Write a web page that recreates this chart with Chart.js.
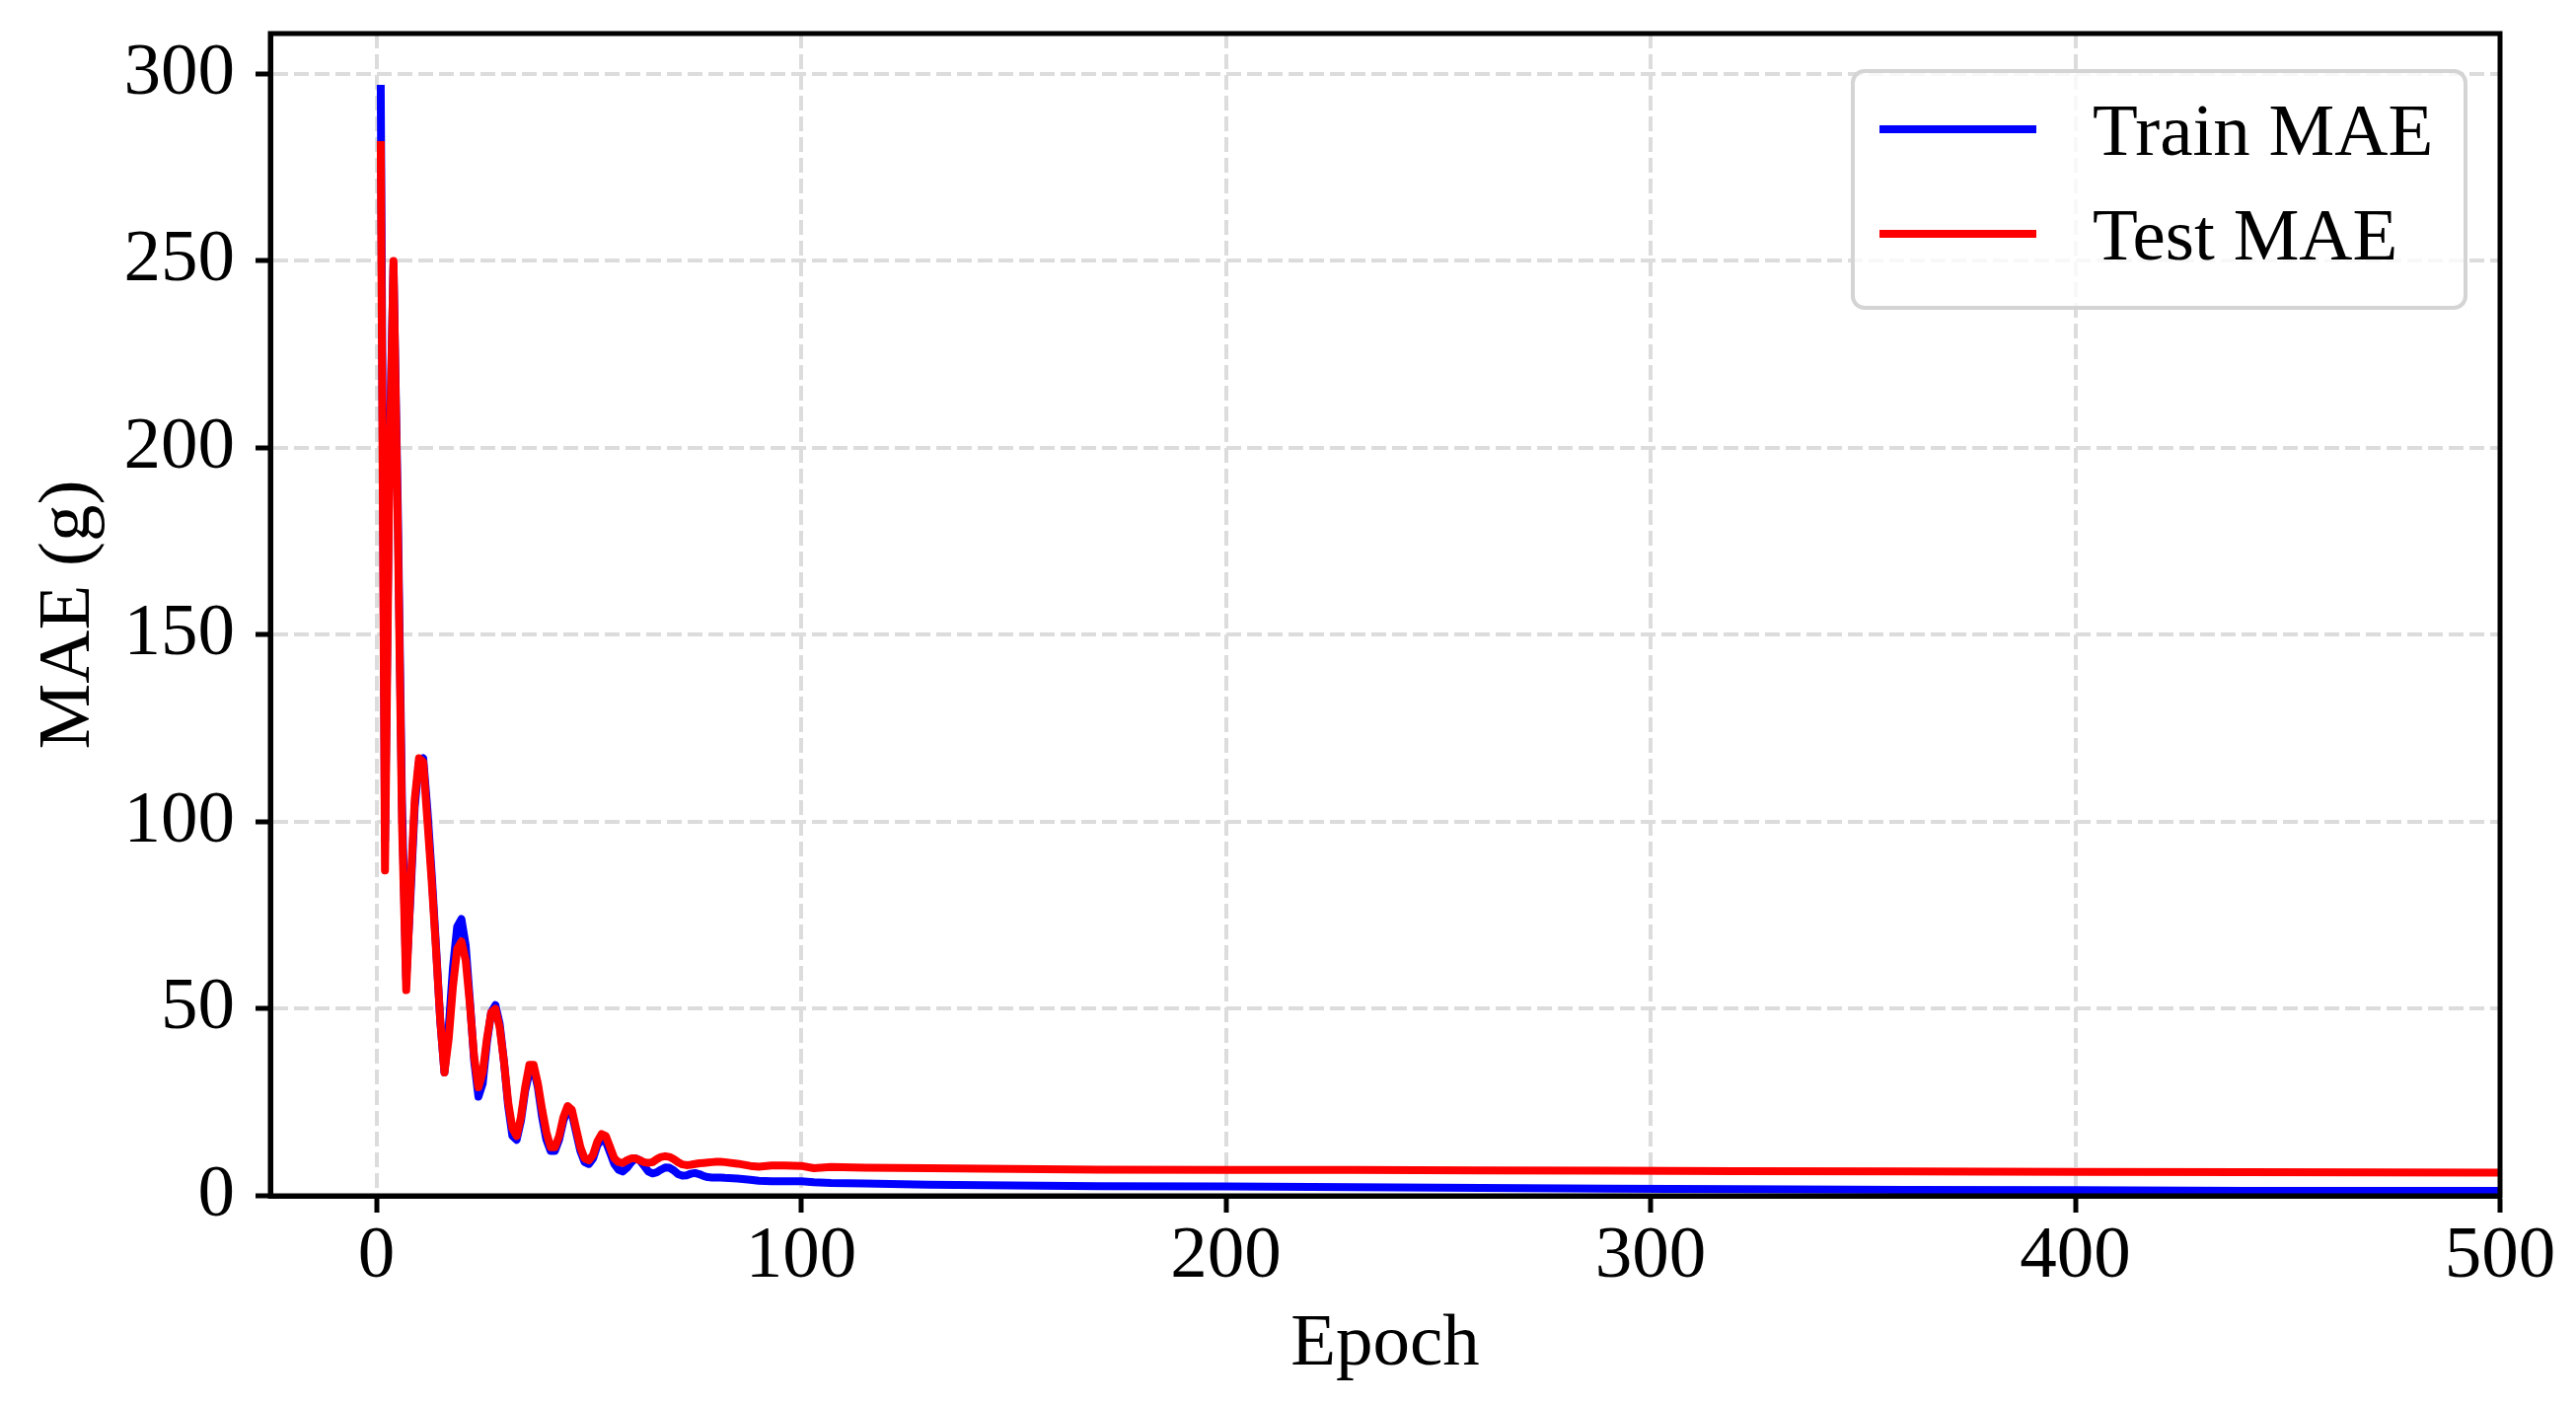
<!DOCTYPE html>
<html>
<head>
<meta charset="utf-8">
<title>MAE per epoch</title>
<script src="https://cdn.jsdelivr.net/npm/chart.js@4.4.1/dist/chart.umd.min.js"></script>
<style>
  html, body { margin: 0; padding: 0; background: #fff; }
  #chart { display: block; }
</style>
</head>
<body>
<canvas id="chart" width="2611" height="1423"></canvas>
<script>
var epochs = [
  1, 2, 3, 4, 5, 6, 7, 8, 9, 10,
  11, 12, 13, 14, 15, 16, 17, 18, 19, 20,
  21, 22, 23, 24, 25, 26, 27, 28, 29, 30,
  31, 32, 33, 34, 35, 36, 37, 38, 39, 40,
  41, 42, 43, 44, 45, 46, 47, 48, 49, 50,
  51, 52, 53, 54, 55, 56, 57, 58, 59, 60,
  61, 62, 63, 64, 65, 66, 67, 68, 69, 70,
  71, 72, 73, 74, 75, 76, 77, 78, 79, 80,
  81, 82, 85, 88, 90, 93, 96, 100, 103, 107,
  115, 130, 150, 170, 200, 230, 260, 290, 320, 360,
  400, 440, 500
];
var trainMae = [
  296, 95, 195, 249, 185, 105, 58, 80, 104, 116,
  117, 103, 86, 67, 47, 33, 45, 61, 72, 74,
  67, 52, 36, 26.5, 30, 41, 49, 51, 46, 36,
  24, 16, 15, 20, 28, 33, 34, 29, 21, 15,
  12, 12, 15, 20, 23, 22, 17, 12, 9, 8.5,
  10, 13.5, 15, 14.5, 11.5, 8.5, 7, 6.5, 7.5, 9,
  10, 9.5, 8, 6.5, 6, 6.3, 7, 7.6, 7.5, 6.8,
  5.8, 5.4, 5.5, 5.9, 6.1, 5.8, 5.3, 5.0, 4.9, 4.9,
  4.9, 4.8, 4.6, 4.3, 4.0, 3.9, 3.9, 3.9, 3.6, 3.4,
  3.3, 3.0, 2.8, 2.6, 2.5, 2.3, 2.1, 1.9, 1.8, 1.6,
  1.5, 1.35, 1.3
];
var testMae = [
  281, 87, 190, 250, 180, 100, 55, 82, 106, 117,
  116, 100, 84, 66, 47, 33, 42, 56, 66, 68,
  63, 51, 37, 29, 33, 42, 49, 50, 45, 36,
  25, 18, 16, 21, 29, 35, 35, 30, 23, 17,
  13, 13, 16, 21, 24, 23, 18, 13, 10, 9.5,
  11, 14.5, 16.5, 16, 13, 10, 9, 8.8, 9.5, 10,
  10, 9.5, 9, 8.8, 9, 9.8, 10.4, 10.6, 10.4, 9.8,
  9, 8.4, 8.2, 8.3, 8.5, 8.7, 8.8, 8.9, 9.0, 9.1,
  9.1, 9.0, 8.6, 8.0, 7.8, 8.1, 8.1, 8.0, 7.4, 7.7,
  7.5, 7.4, 7.2, 7.0, 6.95, 6.9, 6.8, 6.7, 6.6, 6.5,
  6.4, 6.3, 6.2
];
var xTicks = [0, 100, 200, 300, 400, 500];
var yTicks = [0, 50, 100, 150, 200, 250, 300];

(function () {
  var FONT = "'Liberation Serif', 'Times New Roman', serif";

  function points(values) {
    return epochs.map(function (e, i) { return { x: e, y: values[i] }; });
  }

  function series(label, values, color, order) {
    return {
      label: label,
      data: points(values),
      borderColor: color,
      backgroundColor: color,
      borderWidth: 8,
      borderJoinStyle: "round",
      borderCapStyle: "square",
      tension: 0,
      fill: false,
      pointRadius: 0,
      pointHoverRadius: 0,
      order: order
    };
  }

  // closed black frame round the plot area
  var framePlugin = {
    id: "frame",
    afterDatasetsDraw: function (chart) {
      var a = chart.chartArea, ctx = chart.ctx;
      ctx.save();
      ctx.strokeStyle = "#000";
      ctx.lineWidth = 5;
      ctx.strokeRect(a.left, a.top, a.right - a.left, a.bottom - a.top);
      ctx.restore();
    }
  };

  // matplotlib-like legend box in the upper right corner
  var legendPlugin = {
    id: "mplLegend",
    afterDraw: function (chart) {
      var ctx = chart.ctx;
      var box = { x: 1878, y: 72, w: 621, h: 240, r: 12 };
      ctx.save();
      ctx.beginPath();
      ctx.roundRect(box.x, box.y, box.w, box.h, box.r);
      ctx.fillStyle = "rgba(255,255,255,0.8)";
      ctx.fill();
      ctx.lineWidth = 4;
      ctx.strokeStyle = "#d4d4d4";
      ctx.stroke();
      chart.data.datasets.forEach(function (ds, i) {
        var ly = 131 + i * 106;
        ctx.beginPath();
        ctx.moveTo(1905, ly);
        ctx.lineTo(2064, ly);
        ctx.lineWidth = 8;
        ctx.lineCap = "butt";
        ctx.strokeStyle = ds.borderColor;
        ctx.stroke();
        ctx.fillStyle = "#000";
        ctx.font = "75px " + FONT;
        ctx.textBaseline = "alphabetic";
        ctx.textAlign = "left";
        ctx.fillText(ds.label, 2121, ly + 26);
      });
      ctx.restore();
    }
  };

  function axis(opts) {
    return {
      type: "linear",
      min: opts.min,
      max: opts.max,
      afterBuildTicks: function (scale) {
        scale.ticks = opts.ticks.map(function (v) { return { value: v }; });
      },
      afterFit: opts.fit,
      grid: { color: "#dcdcdc", lineWidth: 4, tickLength: opts.tickLength, tickWidth: 5, tickColor: "#000" },
      border: { display: true, color: "#000", width: 5, dash: [15, 6] },
      ticks: {
        color: "#000",
        padding: opts.padding,
        maxRotation: 0,
        autoSkip: false,
        font: { family: FONT, size: 75 },
        callback: function (v) { return String(v); }
      },
      title: {
        display: true,
        text: opts.title,
        color: "#000",
        font: { family: FONT, size: 75 },
        padding: opts.titlePadding
      }
    };
  }

  new Chart(document.getElementById("chart"), {
    type: "line",
    data: {
      datasets: [
        series("Train MAE", trainMae, "#0000ff", 2),
        series("Test MAE", testMae, "#ff0000", 1)
      ]
    },
    options: {
      responsive: false,
      devicePixelRatio: 1,
      animation: false,
      layout: { padding: { left: 0, top: 34, right: 77, bottom: 0 } },
      plugins: { legend: { display: false }, tooltip: { enabled: false } },
      scales: {
        x: axis({
          min: -25, max: 500, ticks: xTicks, tickLength: 17, padding: 0,
          title: "Epoch", titlePadding: { top: 0, bottom: 15 },
          fit: function (s) { s.height = 211; s.paddingLeft = 0; s.paddingRight = 0; }
        }),
        y: axis({
          min: 0, max: 310.8, ticks: yTicks, tickLength: 15, padding: 21,
          title: "MAE (g)", titlePadding: { top: 25, bottom: 0 },
          fit: function (s) { s.width = 274; s.paddingTop = 0; s.paddingBottom = 0; }
        })
      }
    },
    plugins: [framePlugin, legendPlugin]
  });
})();
</script>
</body>
</html>
